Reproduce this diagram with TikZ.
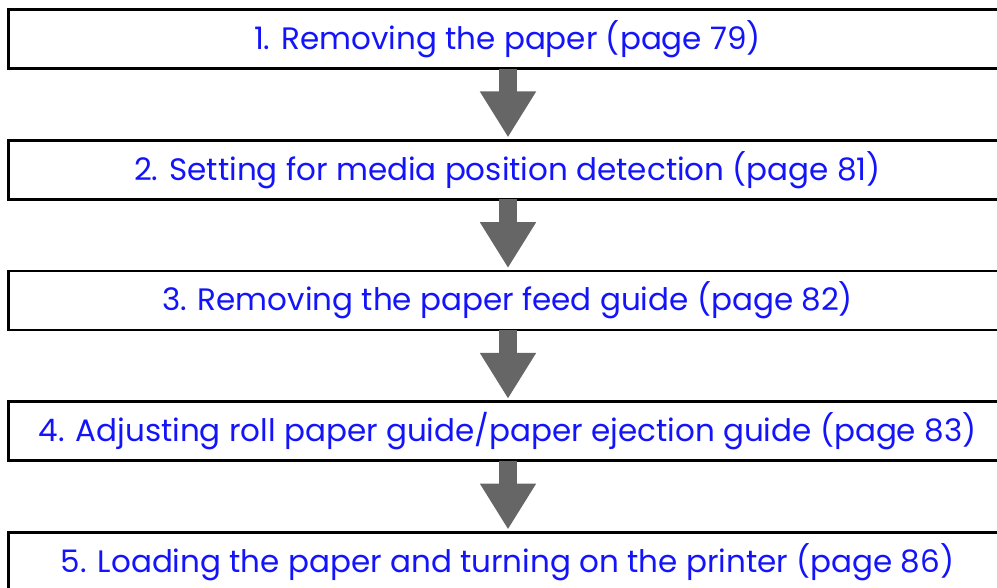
\documentclass[tikz,border=0pt]{standalone}
\usepackage{fontspec}
\setmainfont{Poppins}
\usepackage{xcolor}
\usepackage{tikz}
\usetikzlibrary{arrows.meta,positioning}

\definecolor{stepblue}{RGB}{20,20,250}
\definecolor{arrowgray}{RGB}{102,102,102}

\begin{document}
\begin{tikzpicture}[
  x=1pt, y=1pt,
  stepbox/.style={draw, line width=2.7pt, outer sep=0pt, minimum width=997.5pt, minimum height=58.8pt,
    inner sep=0pt, text=stepblue, font=\fontsize{31}{37}\selectfont},
  down/.style={arrowgray, line width=18pt, -{Triangle[length=46pt, width=53pt]}}
]
\clip (0,0) rectangle (997,-587);
\node[stepbox] (s1) at (507.5,-39.1) {1. Removing the paper (page 79)};
\node[stepbox, below=71.9pt of s1] (s2) {2. Setting for media position detection (page 81)};
\node[stepbox, below=71.9pt of s2] (s3) {3. Removing the paper feed guide (page 82)};
\node[stepbox, below=71.9pt of s3] (s4) {4. Adjusting roll paper guide/paper ejection guide (page 83)};
\node[stepbox, below=71.9pt of s4] (s5) {5. Loading the paper and turning on the printer (page 86)};
% block arrows between the steps
\foreach \a/\b in {s1/s2, s2/s3, s3/s4, s4/s5}
  \draw[down] ([xshift=0.5pt]\a.south) -- ([xshift=0.5pt, yshift=3pt]\b.north);
\end{tikzpicture}
\end{document}
